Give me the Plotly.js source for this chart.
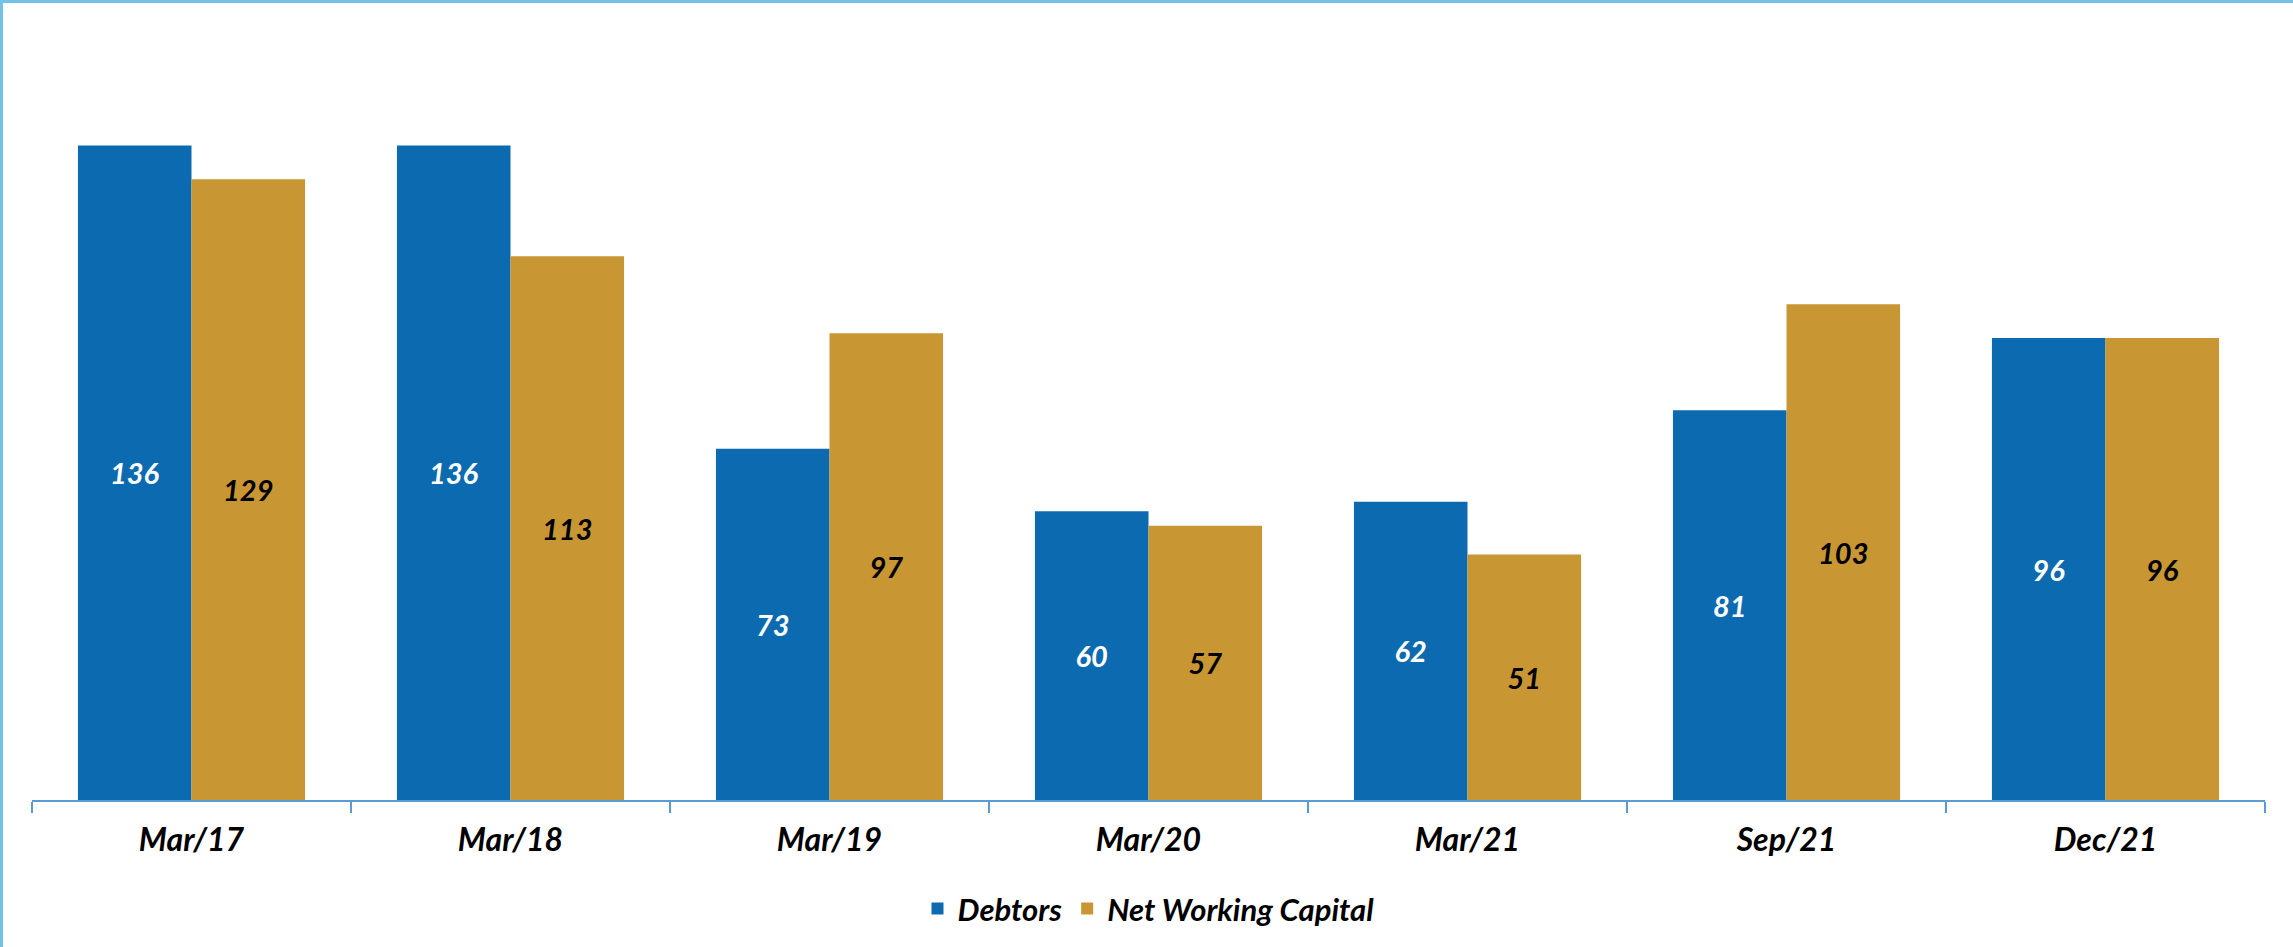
<!DOCTYPE html>
<html>
<head>
<meta charset="utf-8">
<script src="https://cdn.plot.ly/plotly-3.0.1.min.js"></script>
<style>
html,body{margin:0;padding:0;background:#fff;}
#wrap{position:relative;width:2293px;height:947px;}
#chart{position:absolute;left:0;top:0;width:2293px;height:947px;}
#frame{position:absolute;left:0;top:0;width:2293px;height:947px;border-left:3px solid #72C2E8;border-top:3px solid #72C2E8;box-sizing:border-box;pointer-events:none;}
</style>
</head>
<body>
<div id="wrap"><div id="chart"></div><div id="frame"></div></div>
<script>
const categories = ["Mar/17","Mar/18","Mar/19","Mar/20","Mar/21","Sep/21","Dec/21"];
const debtors = [136,136,73,60,62,81,96];
const netWorkingCapital = [129,113,97,57,51,103,96];
const seriesNames = ["Debtors","Net Working Capital"];

const fam = "Lato, 'Open Sans', sans-serif";
const traces = [
  {type:"bar", name:seriesNames[0], x:categories, y:debtors,
   marker:{color:"#0C6AB0"}, text:debtors.map(String), textposition:"inside",
   insidetextanchor:"middle", textangle:0,
   textfont:{family:fam, size:29, color:"#ffffff", weight:"bold", style:"italic"},
   hoverinfo:"none"},
  {type:"bar", name:seriesNames[1], x:categories, y:netWorkingCapital,
   marker:{color:"#C89633"}, text:netWorkingCapital.map(String), textposition:"inside",
   insidetextanchor:"middle", textangle:0,
   textfont:{family:fam, size:29, color:"#000000", weight:"bold", style:"italic"},
   hoverinfo:"none"}
];
const layout = {
  width:2293, height:947,
  margin:{l:32, r:28, t:30, b:146},
  paper_bgcolor:"#ffffff", plot_bgcolor:"#ffffff",
  barmode:"group", bargap:0.288, bargroupgap:0,
  showlegend:true,
  legend:{orientation:"h", x:0.5, xanchor:"center", y:-0.14, yanchor:"middle",
          font:{family:fam, size:31, color:"#000", weight:"bold", style:"italic"},
          itemwidth:30, tracegroupgap:0},
  xaxis:{type:"category", showgrid:false, zeroline:false,
         showline:true, linecolor:"#5B9BD5", linewidth:1.5,
         ticks:"outside", tickson:"boundaries", ticklen:11, tickcolor:"#5B9BD5", tickwidth:1.5,
         ticklabelstandoff:11,
         tickfont:{family:fam, size:32, color:"#000", weight:"bold", style:"italic"}},
  yaxis:{range:[0,160], visible:false, showgrid:false, zeroline:false, fixedrange:true}
};
Plotly.newPlot("chart", traces, layout, {displayModeBar:false, staticPlot:true});
</script>
</body>
</html>
